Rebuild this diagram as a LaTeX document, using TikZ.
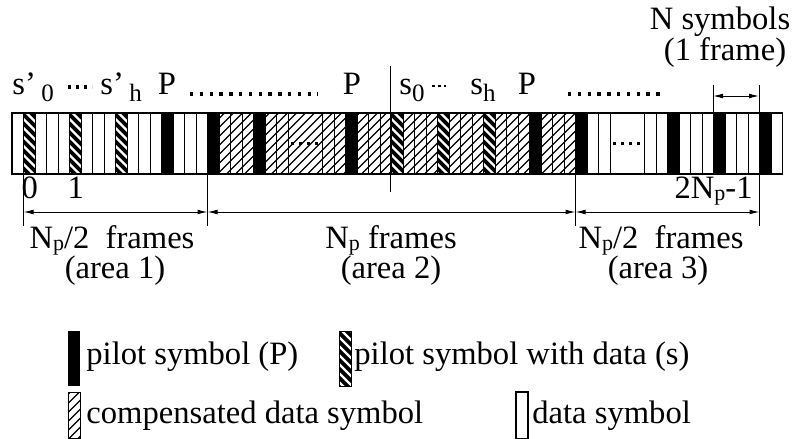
\documentclass[tikz,border=0pt]{standalone}
\usepackage{fontspec}
\setmainfont{Liberation Serif}
\usetikzlibrary{arrows.meta,positioning,calc}

\newcommand{\lowsub}[1]{\raisebox{-0.24em}{\fontsize{12.5}{12}\selectfont #1}}
\newcommand{\psub}{\raisebox{-0.08em}{\fontsize{11}{11}\selectfont p}}

% hatched cells, corners (x1,y1) (x2,y2)
\newcommand{\pdcell}[4]{%
  \begin{scope}
    \clip ({#1},{#2}) rectangle ({#3},{#4});
    \fill[black] ({#1},{#2}) rectangle ({#3},{#4});
    \foreach \h in {-24,-15,...,70}
      {\draw[white,line width=1.1pt] ({#1-3},{#2+\h}) -- ++(24,24);}
  \end{scope}}
\newcommand{\compcell}[4]{%
  \begin{scope}
    \clip ({#1},{#2}) rectangle ({#3},{#4});
    \foreach \h in {-80,-71,...,380}
      {\draw[line width=0.6pt] ({#1+\h},{#4}) -- ++(80,-80);}
  \end{scope}}

\tikzset{
  cellsep/.style={line width=0.5pt},
  barframe/.style={line width=0.8pt},
  dimline/.style={line width=0.5pt},
  dimarrow/.style={{Latex[length=5pt,width=2.4pt]}-{Latex[length=5pt,width=2.4pt]}, line width=0.5pt},
  leader/.style={line width=1.7pt, dash pattern=on 1.7pt off 3.2pt},
  celldots/.style={line width=1.6pt, dash pattern=on 1.6pt off 2.4pt},
  txt/.style={font=\fontsize{16.3}{16}\selectfont, inner sep=0pt}
}

\begin{document}
\begin{tikzpicture}[x=0.5pt,y=-0.5pt]
  \useasboundingbox (0,0) rectangle (798,439);
  \def\cw{11.5}

  % symbol stream: cell k starts at 12+k*cw
  \compcell{207.5}{113}{575.5}{174}
  \foreach \k in {13,17,21,29,45,49,57,61,65}
    {\fill ({12+\k*\cw},113) rectangle ({12+(\k+1)*\cw},174);}
  \foreach \k in {1,5,9,33,37,41}
    {\pdcell{12+\k*\cw}{113}{12+(\k+1)*\cw}{174}}
  \foreach \k in {1,...,24,27,28,...,52,55,56,...,66}
    {\draw[cellsep] ({12+\k*\cw},113) -- ({12+\k*\cw},174);}
  \draw[barframe] (12,113) rectangle (782.5,174);
  \draw[celldots] ({12+24*\cw+3},143.5) -- ++(28,0);
  \draw[celldots] ({12+52*\cw+3},143.5) -- ++(28,0);

  % symbols above the stream
  \node[txt,anchor=base west] (sp0) at (12,94) {s’\,\lowsub{0}};
  \draw[celldots] (68,87) -- (92,87);
  \node[txt,anchor=base west] (sph) at (100,94) {s’\,\lowsub{h}};
  \node[txt,anchor=base] (p1) at (167,94) {P};
  \draw[leader] (190,94) -- (318,94);
  \node[txt,anchor=base] (p2) at (352,94) {P};
  \coordinate (divtop) at (390,66);
  \coordinate (divbot) at (390,192);
  \draw[dimline] (divtop) -- (divbot);
  \node[txt,anchor=base west] (s0) at (399,94) {s\lowsub{0}};
  \draw[line width=1.3pt, dash pattern=on 1.3pt off 1.7pt] (432,86) -- (446,86);
  \node[txt,anchor=base west] (sh) at (470,94) {s\lowsub{h}};
  \node[txt,anchor=base] (p3) at (527,94) {P};
  \draw[leader] (568,94) -- (660,94);

  % one frame
  \node[txt,anchor=base] (nsym) at (720,29) {N symbols};
  \node[txt,anchor=base] (oneframe) at (725,61) {(1 frame)};
  \coordinate (fl) at (713,85);
  \coordinate (fr) at (759,85);
  \draw[dimline] (fl) -- (fl |- 0,113);
  \draw[dimline] (fr) -- (fr |- 0,113);
  \draw[dimarrow] ($(fl)+(0,11)$) -- ($(fr)+(0,11)$);

  % frame indices
  \node[txt,anchor=base] (n0) at (29.75,198) {0};
  \node[txt,anchor=base] (n1) at (75.75,198) {1};
  \node[txt,anchor=base east] (nlast) at (753,198) {2N\psub-1};

  % areas
  \foreach \i/\x in {0/23.5,1/207.5,2/575.5,3/759.5} {
    \coordinate (b\i) at (\x,174);
    \coordinate (e\i) at (\x,226);
    \coordinate (d\i) at (\x,212);
    \draw[dimline] (b\i) -- (e\i);
  }
  \draw[dimarrow] (d0) -- (d1);
  \draw[dimarrow] (d1) -- (d2);
  \draw[dimarrow] (d2) -- (d3);
  \node[txt,anchor=base] (f1) at (112,248) {N\psub/2~ frames};
  \node[txt,anchor=base] (a1) at (115,278) {(area 1)};
  \node[txt,anchor=base] (f2) at (391,248) {N\psub{} frames};
  \node[txt,anchor=base] (a2) at (391,278) {(area 2)};
  \node[txt,anchor=base] (f3) at (661,248) {N\psub/2~ frames};
  \node[txt,anchor=base] (a3) at (658,278) {(area 3)};

  % legend
  \fill (68,331) rectangle (80,386);
  \node[txt,anchor=base west] (lp) at (86,364) {pilot symbol (P)};
  \pdcell{339}{331}{351}{386}
  \draw[line width=0.5pt] (339,331) rectangle (351,386);
  \node[txt,anchor=base west] (ls) at (354,364) {pilot symbol with data (s)};
  \compcell{68}{392}{80}{438.5}
  \draw[line width=0.5pt] (68,392) rectangle (80,438.5);
  \node[txt,anchor=base west] (lc) at (86,423) {compensated data symbol};
  \draw[line width=0.6pt] (516,392) rectangle (528,438.5);
  \node[txt,anchor=base west] (ld) at (532,423) {data symbol};
\end{tikzpicture}
\end{document}
